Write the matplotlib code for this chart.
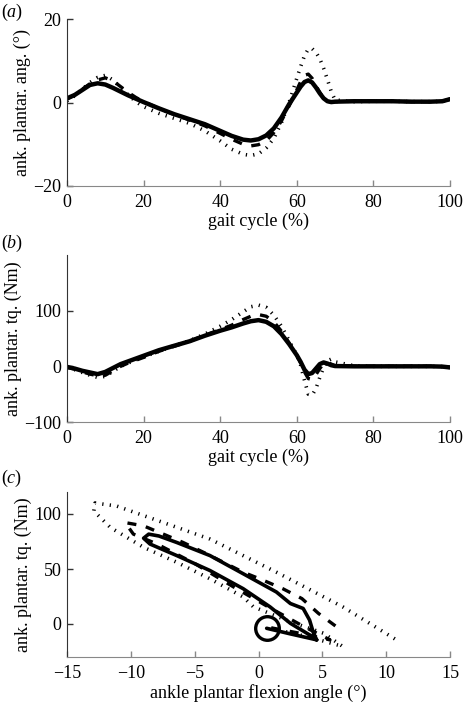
import numpy as np
import matplotlib
matplotlib.use('Agg')
import matplotlib.pyplot as plt

# gait cycle samples (%)
gait = [0, 2, 4, 6, 8, 10, 12, 14, 16, 18, 20, 24, 28, 32, 36, 40, 43, 46, 48, 50,
        52, 54, 56, 58, 60, 61, 62, 63, 64, 65, 66, 67, 68, 69, 70, 75, 80, 85, 90,
        95, 98, 100]

# (a) ankle plantar flexion angle (deg)
ang_solid = [1.0, 1.8, 3.0, 4.2, 4.6, 4.3, 3.5, 2.6, 1.7, 0.9, 0.1, -1.4, -2.8, -4.0,
             -5.2, -6.8, -8.0, -8.9, -9.1, -8.8, -7.9, -6.2, -3.6, -0.4, 2.4, 3.8, 4.9,
             5.3, 4.8, 3.6, 2.2, 1.0, 0.3, 0.1, 0.2, 0.3, 0.3, 0.3, 0.2, 0.2, 0.3, 0.8]
ang_dash = [0.8, 1.8, 3.2, 4.5, 5.4, 5.9, 5.2, 3.8, 2.4, 1.2, 0.2, -1.4, -2.9, -4.2,
            -5.6, -7.4, -8.8, -10.0, -10.4, -10.1, -9.2, -7.2, -4.4, -0.8, 3.0, 5.0,
            6.5, 6.8, 5.8, 4.0, 2.4, 1.0, 0.3, 0.1, 0.2, 0.3, 0.3, 0.3, 0.2, 0.2, 0.3, 0.8]
ang_dot = [0.4, 1.6, 3.2, 4.8, 6.0, 6.5, 5.4, 3.6, 1.8, 0.2, -1.0, -2.6, -3.8, -5.0,
           -6.8, -9.2, -11.2, -12.4, -12.7, -12.3, -10.9, -8.6, -4.8, 0.0, 5.8, 8.6,
           11.2, 12.8, 12.9, 12.0, 10.5, 8.2, 5.5, 2.6, 0.6, 0.2, 0.3, 0.3, 0.2, 0.2,
           0.3, 0.6]

# (b) ankle plantar torque (Nm)
tq_solid = [-1, -4, -8, -11, -14, -10, -3, 4, 9, 14, 19, 29, 37, 45, 55, 64, 70, 77, 81,
            83, 80, 72, 58, 40, 20, 8, -6, -14, -12, -4, 4, 7, 5, 2, 0.5, 0, 0, 0, 0, 0,
            -0.5, -2]
tq_dash = [-2, -5, -10, -14, -17, -16, -8, 0, 6, 11, 16, 27, 36, 45, 56, 66, 74, 84, 90,
           93, 90, 80, 63, 42, 20, 6, -10, -22, -24, -15, -4, 5, 7, 4, 1, 0, 0, 0, 0, 0,
           -0.5, -2]
tq_dot = [-3, -6, -11, -16, -20, -18, -9, 0, 6, 12, 17, 27, 37, 46, 58, 72, 84, 98, 107,
          110, 106, 92, 72, 46, 20, 2, -25, -50, -52, -40, -20, -2, 10, 13, 8, 1, 0, 0,
          0, 0, -0.5, -2]

# (c) angle / torque loops
loop_ang_solid = [0.64, 2.5, 4.56, 4.0, 2.5, 0.9, -1.2, -3.8, -6.4, -8.5, -9.0, -8.6,
                  -7.8, -6.4, -3.8, -1.2, 1.4, 2.5, 3.5, 4.0, 4.3, 4.56]
loop_tq_solid = [-3.9, -9.0, -14.4, -9.9, 0.6, 15.6, 32.1, 48.6, 62.2, 72.7, 78.0, 81.7,
                 80.0, 74.1, 62.2, 45.7, 29.1, 18.6, 14.1, 3.6, -8.0, -14.4]
loop_ang_dash = [1.0, 3.5, 5.6, 3.5, 1.0, -2.0, -5.0, -8.0, -9.8, -10.45, -9.0, -7.45,
                 -5.9, -4.3, -2.75, -1.2, 0.4, 1.9, 3.4, 4.7, 6.1, 6.4]
loop_tq_dash = [-3.5, -9.0, -14.4, -2.0, 14.0, 34.0, 55.0, 73.0, 81.7, 92.2, 89.2, 81.7,
                74.1, 65.1, 56.1, 47.1, 39.6, 32.1, 23.1, 9.6, -2.4, -6.0]
loop_ang_dot = [1.0, 4.0, 6.6, 5.1, 2.5, -0.4, -1.2, -3.8, -6.4, -9.0, -11.6, -12.9,
                -12.8, -11.1, -3.8, 1.4, 6.6, 10.8]
loop_tq_dot = [-4.0, -12.0, -20.4, -8.4, 2.0, 15.6, 24.6, 41.1, 56.1, 69.7, 87.7, 102.7,
               110.0, 107.2, 77.2, 47.1, 15.6, -14.4]
start_ang = [0.64]
start_tq = [-3.9]

plt.rcParams['font.family'] = ['Liberation Serif', 'DejaVu Serif']
plt.rcParams['font.size'] = 13
plt.rcParams['mathtext.fontset'] = 'custom'
plt.rcParams['mathtext.rm'] = 'Liberation Serif'
plt.rcParams['mathtext.it'] = 'Liberation Serif:italic'
plt.rcParams['lines.scale_dashes'] = False

SOLID = dict(color='black', lw=3.2, solid_capstyle='round', solid_joinstyle='round')
DASH = dict(color='black', lw=2.4, dashes=(6.5, 7.0))
DOT = dict(color='black', lw=2.6, dashes=(0.9, 4.5))


def style_axes(ax):
    for s in ['top', 'right']:
        ax.spines[s].set_visible(False)
    ax.spines['left'].set_color('#333333')
    ax.spines['bottom'].set_color('#888888')
    ax.tick_params(direction='in', length=4, width=1, colors='black', pad=5)
    ax.tick_params(axis='x', colors='#888888', labelcolor='black', pad=6)
    ax.tick_params(axis='y', colors='#333333', labelcolor='black', pad=4)


fig = plt.figure(figsize=(4.63, 7.02), dpi=100)
W, H = 463.0, 702.0
L = 67 / W
AW = 383 / W

# (a)
ax1 = fig.add_axes([L, 1 - 186 / H, AW, 167 / H])
ax1.plot(gait, ang_dot, **DOT)
ax1.plot(gait, ang_dash, **DASH)
ax1.plot(gait, ang_solid, **SOLID)
ax1.set_xlim(0, 100)
ax1.set_ylim(-20, 20)
ax1.set_xticks([0, 20, 40, 60, 80, 100])
ax1.set_yticks([-20, 0, 20])
ax1.set_xlabel('gait cycle (%)', labelpad=1)
ax1.set_ylabel('ank. plantar. ang. (°)', labelpad=2)
style_axes(ax1)

# (b)
ax2 = fig.add_axes([L, 1 - 422 / H, AW, 167 / H])
ax2.plot(gait, tq_dot, **DOT)
ax2.plot(gait, tq_dash, **DASH)
ax2.plot(gait, tq_solid, **SOLID)
ax2.set_xlim(0, 100)
ax2.set_ylim(-100, 200)
ax2.set_xticks([0, 20, 40, 60, 80, 100])
ax2.set_yticks([-100, 0, 100])
ax2.set_xlabel('gait cycle (%)', labelpad=1)
ax2.set_ylabel('ank. plantar. tq. (Nm)', labelpad=2)
style_axes(ax2)

# (c)
ax3 = fig.add_axes([L, 1 - 657 / H, AW, 165 / H])
ax3.plot(loop_ang_dot, loop_tq_dot, **DOT)
ax3.plot(loop_ang_dash, loop_tq_dash, **DASH)
ax3.plot(loop_ang_solid, loop_tq_solid, color='black', lw=2.6,
         solid_capstyle='round', solid_joinstyle='round')
ax3.plot(start_ang, start_tq, 'o', ms=17, mfc='none', mec='black', mew=2.4)
ax3.set_xlim(-15, 15)
ax3.set_ylim(-30, 120)
ax3.set_xticks([-15, -10, -5, 0, 5, 10, 15])
ax3.set_yticks([0, 50, 100])
ax3.set_xlabel('ankle plantar flexion angle (°)', labelpad=1)
ax3.set_ylabel('ank. plantar. tq. (Nm)', labelpad=2)
style_axes(ax3)

fig.text(1 / W, 1 - 12 / H, r'$(\mathit{a})$', va='center', ha='left')
fig.text(1 / W, 1 - 243 / H, r'$(\mathit{b})$', va='center', ha='left')
fig.text(1 / W, 1 - 478 / H, r'$(\mathit{c})$', va='center', ha='left')

fig.savefig('out.png', dpi=100)
